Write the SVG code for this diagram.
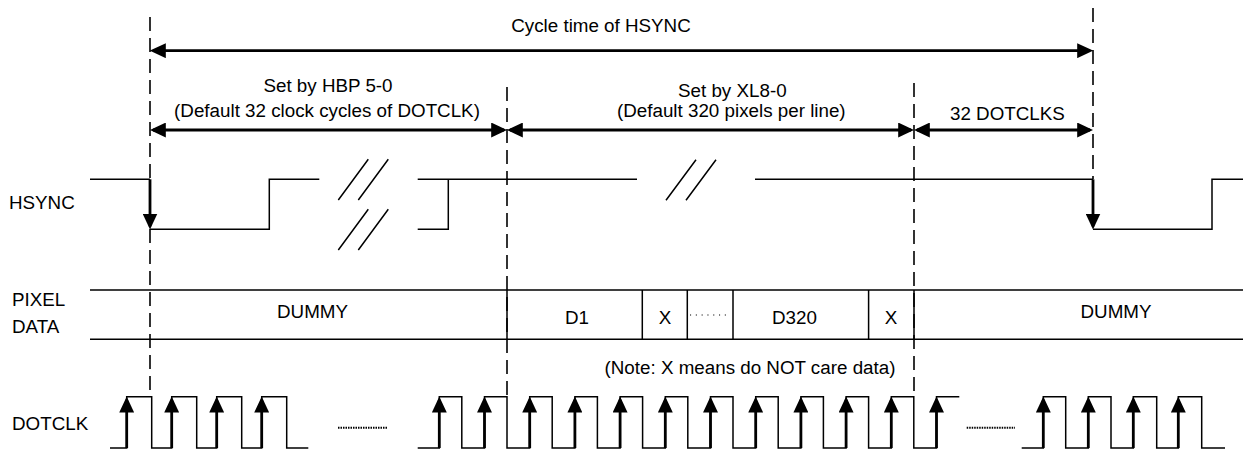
<svg xmlns="http://www.w3.org/2000/svg" width="1243" height="452" viewBox="0 0 1243 452">
<style>
text{font-family:"Liberation Sans",Arial,sans-serif;font-size:18.8px;fill:#000}
.m{text-anchor:middle}
.w{fill:none;stroke:#000;stroke-width:1.5}
.dash{fill:none;stroke:#000;stroke-width:1.6;stroke-dasharray:14 7}
.dim{fill:none;stroke:#000;stroke-width:2.8;marker-start:url(#ah);marker-end:url(#ah)}
.bold{fill:none;stroke:#000;stroke-width:2.8;marker-end:url(#ah)}
.dots{fill:none;stroke:#000;stroke-width:2;stroke-dasharray:1.5 1}
</style>
<defs>
<marker id="ah" markerUnits="userSpaceOnUse" markerWidth="16" markerHeight="15" viewBox="0 0 15 14" refX="12" refY="7" orient="auto-start-reverse">
<path d="M0,0 L15,7 L0,14 z" fill="#000"/>
</marker>
</defs>
<rect width="1243" height="452" fill="#fff"/>

<g id="guides">
<line class="dash" x1="150" y1="17" x2="150" y2="179"/>
<line class="dash" x1="150" y1="229" x2="150" y2="397"/>
<line class="dash" x1="507" y1="87" x2="507" y2="397"/>
<line class="dash" x1="914" y1="83" x2="914" y2="397"/>
<line class="dash" x1="1093" y1="8" x2="1093" y2="179"/>
</g>

<g id="connectors">
<line class="dim" x1="153" y1="50.7" x2="1090" y2="50.7"/>
<line class="dim" x1="153" y1="130" x2="504" y2="130"/>
<line class="dim" x1="510" y1="130" x2="911" y2="130"/>
<line class="dim" x1="917" y1="130" x2="1090" y2="130"/>
</g>

<g id="labels-top">
<text class="m" x="601" y="31.7">Cycle time of HSYNC</text>
<text class="m" x="328" y="92">Set by HBP 5-0</text>
<text class="m" x="327" y="117">(Default 32 clock cycles of DOTCLK)</text>
<text x="678" y="97">Set by XL8-0</text>
<text x="617" y="117">(Default 320 pixels per line)</text>
<text x="950" y="119.5">32 DOTCLKS</text>
</g>

<g id="hsync">
<text x="9" y="209">HSYNC</text>
<path class="w" d="M90,179.3 H150"/>
<line class="bold" x1="150" y1="179.3" x2="150" y2="226.3"/>
<path class="w" d="M150,229.3 H269.3 V179.3 H319.3"/>
<path class="w" d="M338.3,200 L368.3,159.3 M358.3,200 L388.3,159.3 M338.3,250 L368.3,209.3 M358.3,250 L388.3,209.3"/>
<path class="w" d="M417.7,179.3 H637 M417.7,229.3 H448.3 V179.3"/>
<path class="w" d="M666,200.3 L696,159.7 M686,200.3 L716,159.7"/>
<path class="w" d="M755,179.3 H1093"/>
<line class="bold" x1="1093" y1="179.3" x2="1093" y2="226.3"/>
<path class="w" d="M1093,229.3 H1212 V179.3 H1243"/>
</g>

<g id="pixel-data">
<text x="12" y="306">PIXEL</text>
<text x="12" y="333">DATA</text>
<path class="w" d="M90,290 H1243 M90,339.3 H1243"/>
<path class="w" d="M507,290 V339.3 M642.3,290 V339.3 M687.3,290 V339.3 M733,290 V339.3 M868.6,290 V339.3 M914,290 V339.3"/>
<text class="m" x="312.5" y="318">DUMMY</text>
<text class="m" x="577" y="324">D1</text>
<text class="m" x="665" y="324">X</text>
<line x1="690" y1="315" x2="726" y2="315" stroke="#000" stroke-width="1.1" stroke-dasharray="1.1 4.7"/>
<text x="772" y="324">D320</text>
<text class="m" x="891" y="324">X</text>
<text class="m" x="1116" y="318">DUMMY</text>
<text class="m" x="750" y="374">(Note: X means do NOT care data)</text>
</g>

<g id="dotclk">
<text x="12" y="430">DOTCLK</text>
<path class="w" d="M110,448 H126.7 V396.7 H151.7 V448 H171.7 V396.7 H196.7 V448 H216.7 V396.7 H241.7 V448 H261.7 V396.7 H286.7 V448 H308.3"/>
<line class="dots" x1="338" y1="427.7" x2="387" y2="427.7"/>
<path class="w" d="M417.7,448 H439.3 V396.7 H461.8 V448 H484.5 V396.7 H507 V448 H529.7 V396.7 H552.2 V448 H574.9 V396.7 H597.4 V448 H620.1 V396.7 H642.6 V448 H665.3 V396.7 H687.8 V448 H710.5 V396.7 H733 V448 H755.7 V396.7 H778.2 V448 H800.9 V396.7 H823.4 V448 H846.1 V396.7 H868.6 V448 H891.3 V396.7 H913.8 V448 H936.5 V396.7 H959.3"/>
<line class="dots" x1="966.7" y1="427.7" x2="1015" y2="427.7"/>
<path class="w" d="M1021.7,448 H1043.3 V396.7 H1065.7 V448 H1088.3 V396.7 H1111 V448 H1133.3 V396.7 H1156.7 V448 H1178.3 V396.7 H1201.7 V448 H1225"/>
<g id="clk-arrows">
<line class="bold" x1="126.7" y1="448" x2="126.7" y2="399.7"/>
<line class="bold" x1="171.7" y1="448" x2="171.7" y2="399.7"/>
<line class="bold" x1="216.7" y1="448" x2="216.7" y2="399.7"/>
<line class="bold" x1="261.7" y1="448" x2="261.7" y2="399.7"/>
<line class="bold" x1="439.3" y1="448" x2="439.3" y2="399.7"/>
<line class="bold" x1="484.5" y1="448" x2="484.5" y2="399.7"/>
<line class="bold" x1="529.7" y1="448" x2="529.7" y2="399.7"/>
<line class="bold" x1="574.9" y1="448" x2="574.9" y2="399.7"/>
<line class="bold" x1="620.1" y1="448" x2="620.1" y2="399.7"/>
<line class="bold" x1="665.3" y1="448" x2="665.3" y2="399.7"/>
<line class="bold" x1="710.5" y1="448" x2="710.5" y2="399.7"/>
<line class="bold" x1="755.7" y1="448" x2="755.7" y2="399.7"/>
<line class="bold" x1="800.9" y1="448" x2="800.9" y2="399.7"/>
<line class="bold" x1="846.1" y1="448" x2="846.1" y2="399.7"/>
<line class="bold" x1="891.3" y1="448" x2="891.3" y2="399.7"/>
<line class="bold" x1="936.5" y1="448" x2="936.5" y2="399.7"/>
<line class="bold" x1="1043.3" y1="448" x2="1043.3" y2="399.7"/>
<line class="bold" x1="1088.3" y1="448" x2="1088.3" y2="399.7"/>
<line class="bold" x1="1133.3" y1="448" x2="1133.3" y2="399.7"/>
<line class="bold" x1="1178.3" y1="448" x2="1178.3" y2="399.7"/>
</g>
</g>
</svg>
